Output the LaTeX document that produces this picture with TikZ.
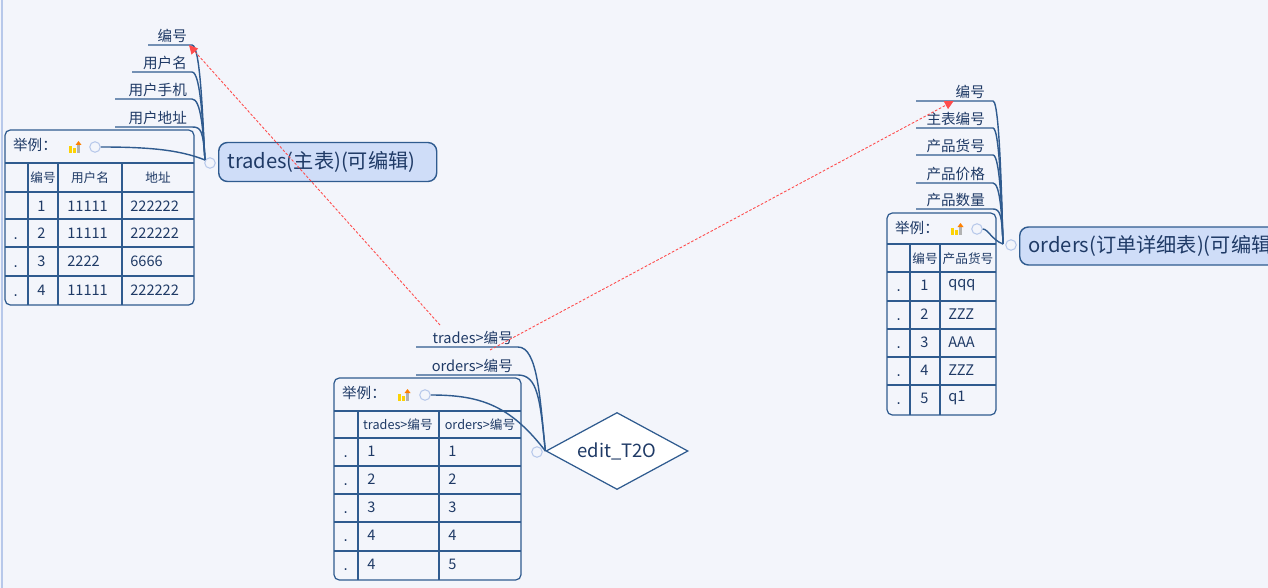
\documentclass[tikz,border=0pt]{standalone}
\usepackage{fontspec}
\setmainfont{Noto Sans CJK SC}
\newfontfamily\latinf{DejaVu Sans}
\usepackage{tikz}
\usetikzlibrary{positioning}
\usetikzlibrary{shapes.geometric, arrows.meta}
\definecolor{bg}{HTML}{F3F5FB}
\definecolor{ink}{HTML}{1F3A66}
\definecolor{edge}{HTML}{2F5B8F}
\definecolor{topicfill}{HTML}{CFDDF8}
\definecolor{foldc}{HTML}{B7C8EA}
\tikzset{
  topic/.style={draw=edge, fill=topicfill, rounded corners=5pt, line width=0.8pt, text=ink, font=\fontsize{11.5}{13}\selectfont, inner sep=0pt},
  sub/.style={text=ink, font=\fontsize{8.3}{9}\selectfont, inner sep=1pt},
  cell/.style={text=ink, font=\fontsize{8.3}{9}\selectfont, inner sep=0pt, anchor=west},
  dotcell/.style={text=ink, font=\latinf\fontsize{8.3}{9}\selectfont, inner sep=0pt, anchor=base west},
  hcell/.style={text=ink, font=\fontsize{7.2}{8}\selectfont, inner sep=0pt},
  branch/.style={draw=edge, line width=0.8pt},
  grid/.style={draw=edge, line width=0.7pt},
  fold/.style={circle, draw=foldc, fill=bg, minimum size=6pt, inner sep=0pt, line width=0.6pt},
  ref/.style={draw=red!70, dash pattern=on 1.5pt off 1pt, line width=0.5pt, -{Triangle[length=5pt,width=5pt]}}
}
\newcommand{\barsicon}[2]{%
  \fill[yellow!70!orange] (#1-7,#2+6) rectangle (#1-4,#2-1);
  \fill[yellow!70!orange] (#1-3,#2+6) rectangle (#1,#2+1);
  \fill[gray!60] (#1+1,#2+6) rectangle (#1+4,#2-2);
  \fill[orange] (#1+2.5,#2-6) -- (#1-0.5,#2-2) -- (#1+5.5,#2-2) -- cycle;}
\begin{document}
\begin{tikzpicture}[x=0.02cm, y=-0.02cm]
\useasboundingbox[fill=bg] (0,0) rectangle (1268,588);
\draw[foldc, line width=0.8pt] (2,0) -- (2,588);

% trades
\node[topic, minimum width=218*0.02cm, minimum height=39*0.02cm, anchor=west, text width=218*0.02cm, align=left] (trades) at (218,162) {\hspace*{5pt}trades(主表)(可编辑)};
\node[fold] (trfold) at (210,163) {};
\coordinate (trhub) at (205,160);
\foreach \t/\y/\x [count=\i] in {编号/45/148, 用户名/72/132, 用户手机/99/115, 用户地址/127/115} {
  \node[sub, anchor=south east] (trk\i) at (189,\y) {\t};
  \draw[branch] (\x,\y) -- (192,\y) .. controls (201,\y) and (203,130) .. (trhub);
}
\draw[grid, rounded corners=3pt] (5,130) rectangle (194,305);
\draw[grid] (5,163) -- (194,163);
\foreach \y in {192,219,247,276} \draw[grid] (5,\y) -- (194,\y);
\foreach \x in {28,58,122} \draw[grid] (\x,163) -- (\x,305);
\node[sub, anchor=west] (trex) at (11,145) {举例：};
\barsicon{76}{147}
\node[fold] (trexf) at (95,147) {};
\draw[branch] (trexf) .. controls (150,147) and (180,150) .. (trhub);
\node[hcell] (trh1) at (43,178) {编号};
\node[hcell] (trh2) at (90,178) {用户名};
\node[hcell] (trh3) at (158,178) {地址};
\foreach \d/\a/\b/\c [count=\i] in {/1/11111/222222, ./2/11111/222222, ./3/2222/6666, ./4/11111/222222} {
  \pgfmathsetmacro{\ym}{{192,219,247,276}[\i-1]+14}
  \node[dotcell] (trd\i) at (13,\ym+6) {\d};
  \node[cell] (tra\i) at (37,\ym) {\a};
  \node[cell] (trb\i) at (67,\ym) {\b};
  \node[cell] (trc\i) at (130,\ym) {\c};
}

% orders
\node[topic, minimum width=300*0.02cm, minimum height=38*0.02cm, anchor=west, text width=300*0.02cm, align=left] (orders) at (1019,246) {\hspace*{5pt}orders(订单详细表)(可编辑)};
\node[fold] (orfold) at (1011,245) {};
\coordinate (orhub) at (1003,244);
\foreach \t/\y [count=\i] in {编号/101, 主表编号/128, 产品货号/155, 产品价格/183, 产品数量/209} {
  \node[sub, anchor=south east] (ork\i) at (987,\y) {\t};
  \draw[branch] (916,\y) -- (993,\y) .. controls (1000,\y) and (1002,215) .. (orhub);
}
\draw[grid, rounded corners=3pt] (887,213) rectangle (996,415);
\draw[grid] (887,244) -- (996,244);
\foreach \y in {272,301,329,357,385} \draw[grid] (887,\y) -- (996,\y);
\foreach \x in {910,940} \draw[grid] (\x,244) -- (\x,415);
\node[sub, anchor=west] (orex) at (893,228) {举例：};
\barsicon{958}{229}
\node[fold] (orexf) at (977,229) {};
\draw[branch] (orexf) .. controls (988,229) and (992,240) .. (orhub);
\node[hcell] (orh1) at (925,259) {编号};
\node[hcell] (orh2) at (968,259) {产品货号};
\foreach \a/\b [count=\i] in {1/qqq, 2/ZZZ, 3/AAA, 4/ZZZ, 5/q1} {
  \pgfmathsetmacro{\ym}{{272,301,329,357,385}[\i-1]+13}
  \node[dotcell] (ord\i) at (896,\ym+6) {.};
  \node[cell] (ora\i) at (920,\ym) {\a};
  \node[cell] (orb\i) at (948,\ym) {\b};
}

% edit_T2O
\node[diamond, draw=edge, fill=white, line width=0.7pt, aspect=1.85, minimum width=142*0.02cm, minimum height=77*0.02cm, inner sep=0pt, text=ink, font=\fontsize{10.5}{12}\selectfont] (edit) at (617,451) {edit\_T2O};
\node[fold] (edfold) at (537,452) {};
\foreach \t/\y [count=\i] in {trades>编号/347, orders>编号/375} {
  \node[sub, anchor=south east] (edk\i) at (515,\y) {\t};
  \draw[branch] (416,\y) -- (518,\y) .. controls (538,\y) and (540,400) .. (edit.west);
}
\draw[grid, rounded corners=3pt] (334,378) rectangle (521,580);
\draw[grid] (334,411) -- (521,411);
\foreach \y in {438,466,494,522,551} \draw[grid] (334,\y) -- (521,\y);
\foreach \x in {358,439} \draw[grid] (\x,411) -- (\x,580);
\node[sub, anchor=west] (edex) at (340,393) {举例：};
\barsicon{405}{395}
\node[fold] (edexf) at (425,395) {};
\draw[branch] (edexf) .. controls (480,395) and (510,405) .. (edit.west);
\node[hcell] (edh1) at (398,425) {trades>编号};
\node[hcell] (edh2) at (480,425) {orders>编号};
\foreach \a/\b [count=\i] in {1/1, 2/2, 3/3, 4/4, 4/5} {
  \pgfmathsetmacro{\ym}{{438,466,494,522,551}[\i-1]+13}
  \node[dotcell] (edd\i) at (343,\ym+6) {.};
  \node[cell] (eda\i) at (367,\ym) {\a};
  \node[cell] (edb\i) at (448,\ym) {\b};
}

% references
\coordinate (r1) at (440,325);
\coordinate (r2) at (490,350);
\draw[ref] (r1) -- (trk1.south east);
\draw[ref] (r2) -- (ork1.south west);
\end{tikzpicture}
\end{document}
